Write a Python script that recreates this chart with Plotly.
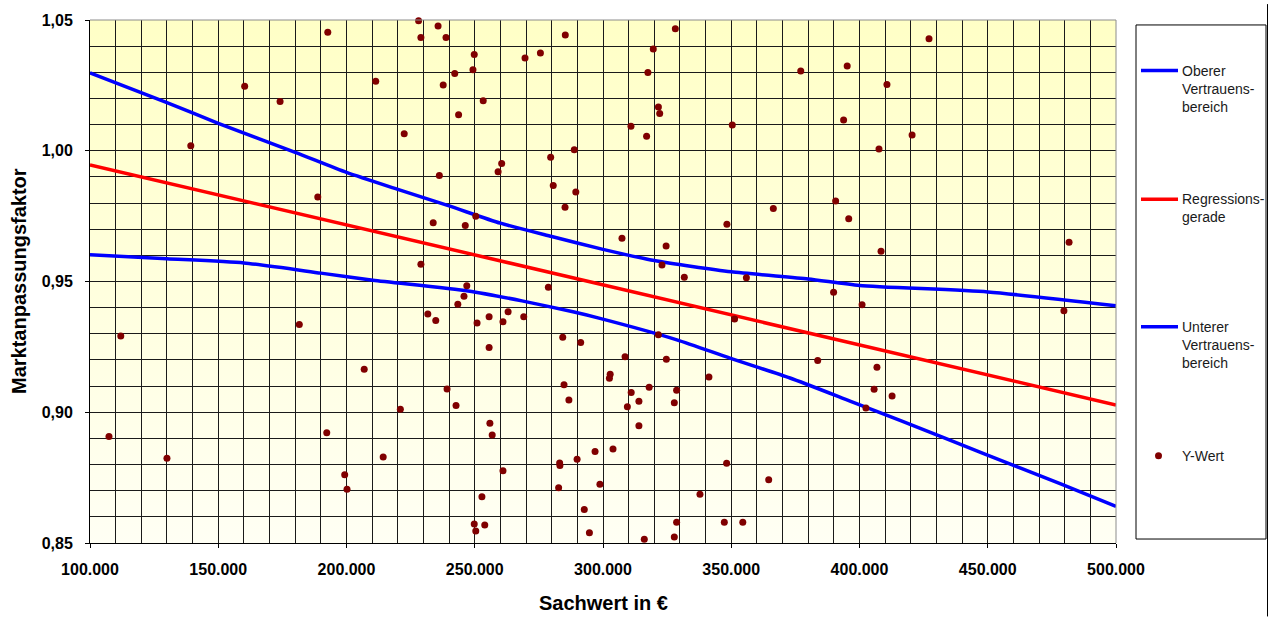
import base64
import plotly.graph_objects as go

# ---------------- data ----------------
sachwert = [107400, 112000, 130000, 139300, 160300, 174100, 181600, 188800, 192700, 192300,
            199300, 200200, 228100, 235700, 229000, 238800, 285300, 249800, 269600, 275600,
            211400, 242200, 249300, 237700, 253300, 243700, 222500, 288800, 279600, 260500,
            259100, 236200, 280600, 289400, 285200, 250400, 233800, 246300, 229000, 246900,
            245800, 243400, 278700, 231700, 234800, 250900, 255600, 261000, 263000, 269100,
            284300, 291300, 255600, 206900, 239200, 242700, 221000, 284800, 286700, 255900,
            256800, 214300, 261000, 283100, 283200, 289900, 296900, 298800, 282700, 252800,
            249800, 250400, 253900, 292700, 294700, 328200, 319600, 317500, 377100, 395200,
            321600, 322100, 310900, 350400, 317000, 393800, 390700, 395800, 366400, 348300,
            307400, 324600, 323000, 331700, 355900, 389900, 351300, 321600, 308600, 324700,
            383700, 302800, 302500, 341300, 318000, 311000, 328700, 314000, 309500, 327800,
            314000, 303900, 348200, 364600, 337800, 328700, 347300, 354500, 316100, 327800,
            427100, 410700, 420500, 407600, 408400, 401000, 406800, 405700, 412700, 402500,
            481700, 479700]
faktor = [0.8907, 0.9292, 0.8824, 1.0019, 1.0247, 1.0188, 0.9336, 0.9823, 1.0453, 0.8922,
          0.8761, 0.8706, 1.0497, 1.0477, 1.0433, 1.0433, 1.0443, 1.0368, 1.0355, 1.0374,
          1.0266, 1.0295, 1.0310, 1.0251, 1.0191, 1.0138, 1.0065, 1.0004, 0.9975, 0.9951,
          0.9920, 0.9905, 0.9867, 0.9842, 0.9784, 0.9750, 0.9725, 0.9714, 0.9566, 0.9484,
          0.9444, 0.9413, 0.9478, 0.9376, 0.9351, 0.9341, 0.9365, 0.9346, 0.9384, 0.9365,
          0.9287, 0.9267, 0.9248, 0.9164, 0.9089, 0.9026, 0.9011, 0.9105, 0.9047, 0.8958,
          0.8913, 0.8829, 0.8776, 0.8806, 0.8796, 0.8820, 0.8850, 0.8725, 0.8711, 0.8677,
          0.8573, 0.8546, 0.8569, 0.8628, 0.8539, 1.0467, 1.0389, 1.0299, 1.0305, 1.0324,
          1.0167, 1.0142, 1.0094, 1.0098, 1.0055, 1.0118, 0.9808, 0.9740, 0.9779, 0.9719,
          0.9665, 0.9636, 0.9563, 0.9516, 0.9514, 0.9459, 0.9357, 0.9296, 0.9212, 0.9203,
          0.9198, 0.9145, 0.9130, 0.9135, 0.9096, 0.9076, 0.9084, 0.9042, 0.9021, 0.9036,
          0.8948, 0.8859, 0.8805, 0.8742, 0.8686, 0.8579, 0.8579, 0.8579, 0.8514, 0.8523,
          1.0428, 1.0253, 1.0060, 1.0007, 0.9616, 0.9411, 0.9172, 0.9088, 0.9062, 0.9016,
          0.9650, 0.9388]

reg_x = [100000, 500000]
reg_y = [0.9946, 0.9028]

oben_x = [100000, 130000, 150000, 180000, 200000, 220000, 240000, 260000, 280000, 300000,
          320000, 350000, 380000, 400000, 450000, 500000]
oben_y = [1.0298, 1.0184, 1.0105, 0.9994, 0.9917, 0.9852, 0.9789, 0.9723, 0.9672, 0.9623,
          0.9580, 0.9537, 0.9510, 0.9485, 0.9460, 0.9407]

unten_x = [100000, 130000, 160000, 190000, 210300, 247400, 268400, 288300, 298800, 328800,
           349500, 372900, 396300, 415800, 448900, 478200, 500000]
unten_y = [0.9602, 0.9587, 0.9571, 0.9532, 0.9505, 0.9464, 0.9426, 0.9384, 0.9359, 0.9277,
           0.9207, 0.9131, 0.9043, 0.8969, 0.8840, 0.8727, 0.8640]

x_ticks = [100000, 150000, 200000, 250000, 300000, 350000, 400000, 450000, 500000]
y_ticks = [0.85, 0.90, 0.95, 1.00, 1.05]

legend_items = ["Oberer<br>Vertrauens-<br>bereich", "Regressions-<br>gerade",
                "Unterer<br>Vertrauens-<br>bereich", "Y-Wert"]

# ---------------- geometry ----------------
W, H = 1270, 617
L, T = 90, 16
R = W - 1116
B = H - 543
PW, PH = W - L - R, H - T - B


def px(xp):  # screen x -> paper
    return (xp - L) / PW


def py(yp):  # screen y -> paper
    return (H - B - yp) / PH


FONT = "Liberation Sans, Arial, sans-serif"

fig = go.Figure()
fig.add_trace(go.Scatter(x=oben_x, y=oben_y, mode="lines",
                         line=dict(color="#0000FF", width=3.5, shape="spline", smoothing=0.6),
                         name="Oberer Vertrauensbereich", showlegend=False))
fig.add_trace(go.Scatter(x=reg_x, y=reg_y, mode="lines", line=dict(color="#FF0000", width=3.5),
                         name="Regressionsgerade", showlegend=False))
fig.add_trace(go.Scatter(x=unten_x, y=unten_y, mode="lines",
                         line=dict(color="#0000FF", width=3.5, shape="spline", smoothing=0.6),
                         name="Unterer Vertrauensbereich", showlegend=False))
fig.add_trace(go.Scatter(x=sachwert, y=faktor, mode="markers", cliponaxis=False,
                         marker=dict(color="#800000", size=7, line=dict(width=0)),
                         name="Y-Wert", showlegend=False))

svg = ('<svg xmlns="http://www.w3.org/2000/svg" width="10" height="200" preserveAspectRatio="none">'
       '<defs><linearGradient id="g" x1="0" y1="0" x2="0" y2="1">'
       '<stop offset="0" stop-color="#FFFFC6"/><stop offset="1" stop-color="#FFFFF4"/>'
       '</linearGradient></defs><rect width="10" height="200" fill="url(#g)"/></svg>')
src = "data:image/svg+xml;base64," + base64.b64encode(svg.encode()).decode()

axis_common = dict(
    showgrid=True, gridcolor="#1a1a1a", gridwidth=1,
    showline=True, linecolor="#000000", linewidth=1,
    ticks="outside", ticklen=4, tickcolor="#000000",
    tickfont=dict(family=FONT, size=16, color="#000000", weight="bold"),
    zeroline=False,
)

fig.update_layout(
    width=W, height=H,
    margin=dict(l=L, r=R, t=T, b=B),
    paper_bgcolor="#FFFFFF", plot_bgcolor="#FFFFFF",
    separators=",.",
    showlegend=False,
    xaxis=dict(range=[99999.9, 500000.1], tickvals=x_ticks, tickformat=",.0f",
               minor=dict(dtick=10000, tick0=100000, showgrid=True, gridcolor="#1a1a1a", gridwidth=1),
               ticklabelstandoff=8, **axis_common),
    yaxis=dict(range=[0.8499999, 1.0500001], tickvals=y_ticks, tickformat=".2f",
               minor=dict(dtick=0.01, tick0=0.85, showgrid=True, gridcolor="#1a1a1a", gridwidth=1),
               ticklabelstandoff=9, **axis_common),
    images=[dict(source=src, xref="paper", yref="paper", x=0, y=1, sizex=1, sizey=1,
                 sizing="stretch", xanchor="left", yanchor="top", layer="below")],
)

shapes = []
# plot-area frame (top/right grey)
shapes.append(dict(type="line", xref="paper", yref="paper", x0=0, x1=1, y0=1, y1=1,
                   line=dict(color="#8c8c8c", width=1), layer="above"))
shapes.append(dict(type="line", xref="paper", yref="paper", x0=1, x1=1, y0=0, y1=1,
                   line=dict(color="#8c8c8c", width=1), layer="above"))
# legend box
shapes.append(dict(type="rect", xref="paper", yref="paper", x0=px(1136), x1=px(1266),
                   y0=py(539), y1=py(21), line=dict(color="#000000", width=1),
                   fillcolor="rgba(255,255,255,1)"))
# chart area right border
shapes.append(dict(type="line", xref="paper", yref="paper", x0=px(1267.5), x1=px(1267.5),
                   y0=py(617), y1=py(0), line=dict(color="#000000", width=1)))

leg_y = [67, 196.7, 325, 455]
leg_lines = [3, 2, 3, 1]
leg_colors = ["#0000FF", "#FF0000", "#0000FF", None]
annotations = []
for txt, yy, nl, col in zip(legend_items, leg_y, leg_lines, leg_colors):
    if col:
        shapes.append(dict(type="line", xref="paper", yref="paper", x0=px(1141), x1=px(1178),
                           y0=py(yy), y1=py(yy), line=dict(color=col, width=3.5)))
    else:
        shapes.append(dict(type="circle", xref="paper", yref="paper", xsizemode="pixel",
                           ysizemode="pixel", xanchor=px(1158.5), yanchor=py(yy),
                           x0=-3.5, x1=3.5, y0=-3.5, y1=3.5,
                           fillcolor="#800000", line=dict(width=0)))
    center = yy + (nl - 1) * 18.2 / 2
    annotations.append(dict(text=txt, xref="paper", yref="paper", x=px(1180), y=py(center),
                            xanchor="left", yanchor="middle", align="left", showarrow=False,
                            font=dict(family=FONT, size=14, color="#1a1a1a")))

annotations.append(dict(text="Sachwert in €", xref="paper", yref="paper", x=0.5, y=py(603),
                        xanchor="center", yanchor="middle", showarrow=False,
                        font=dict(family=FONT, size=20, color="#000000", weight="bold")))
annotations.append(dict(text="Marktanpassungsfaktor", xref="paper", yref="paper", x=px(19),
                        y=py(279), xanchor="center", yanchor="middle", textangle=-90,
                        showarrow=False,
                        font=dict(family=FONT, size=20, color="#000000", weight="bold")))

fig.update_layout(shapes=shapes, annotations=annotations)
fig.write_html("out.html", config={"displayModeBar": False},
               post_script="document.body.style.margin='0';document.body.style.overflow='hidden';")
